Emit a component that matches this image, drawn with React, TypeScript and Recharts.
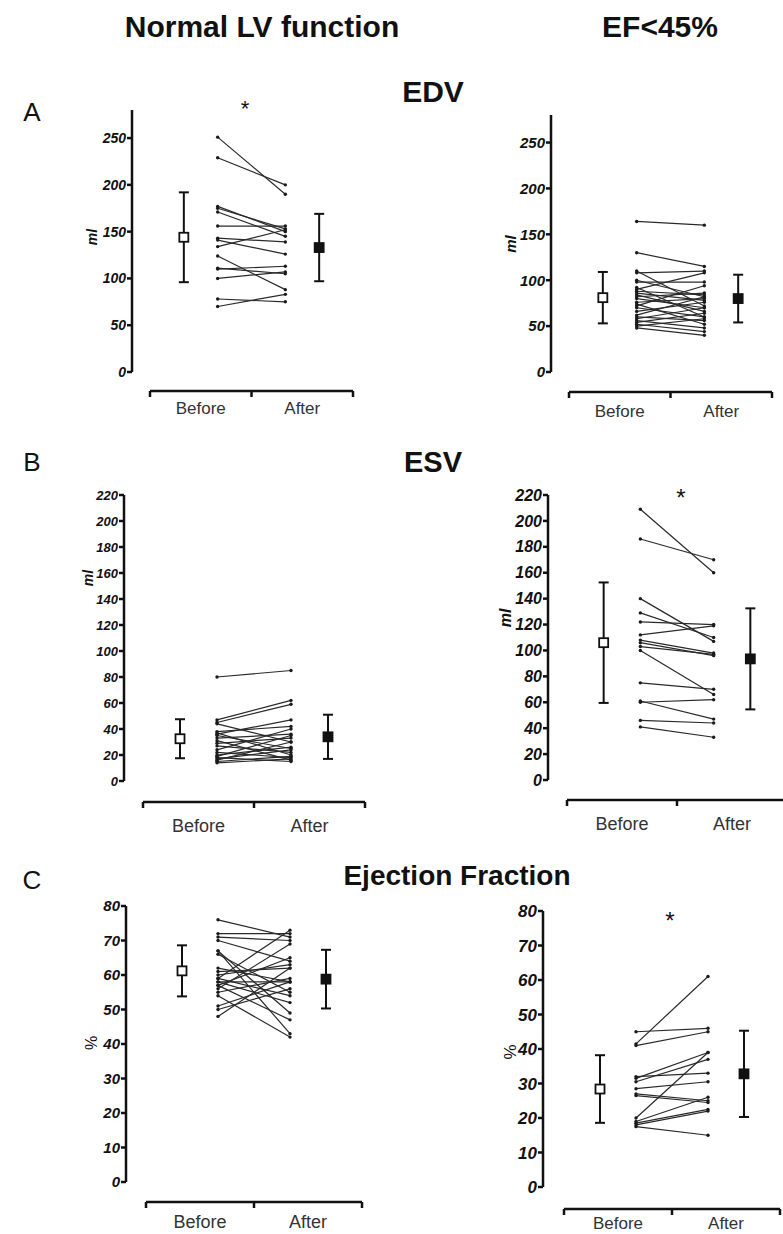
import React from "react";
import { ComposedChart, Line, Scatter, ErrorBar, XAxis, YAxis, ReferenceLine } from "recharts";

// EDV, normal LV function (ml)
const EDV_NORMAL_BEFORE = [251, 229, 177, 175, 171, 156, 143, 141, 134, 124, 111, 110, 100, 78, 70];
const EDV_NORMAL_AFTER = [190, 200, 150, 153, 145, 156, 139, 126, 152, 88, 105, 113, 107, 75, 83];
const EDV_NORMAL_MEAN = [144, 133];
const EDV_NORMAL_SD = [48, 36];

// EDV, EF<45% (ml)
const EDV_LOW_BEFORE = [164, 130, 110, 108, 100, 98, 92, 90, 88, 86, 84, 82, 80, 76, 74, 72, 70, 66, 62, 60, 58, 56, 54, 52, 50, 48];
const EDV_LOW_AFTER = [160, 115, 72, 110, 82, 98, 60, 108, 84, 78, 66, 86, 70, 80, 52, 94, 60, 76, 82, 56, 70, 48, 64, 44, 58, 40];
const EDV_LOW_MEAN = [81, 80];
const EDV_LOW_SD = [28, 26];

// ESV, normal LV function (ml)
const ESV_NORMAL_BEFORE = [80, 47, 45, 44, 38, 37, 36, 35, 33, 31, 29, 27, 24, 22, 20, 19, 18, 17, 16, 15, 14];
const ESV_NORMAL_AFTER = [85, 62, 59, 30, 42, 20, 47, 25, 36, 16, 33, 22, 40, 18, 26, 35, 15, 24, 30, 19, 17];
const ESV_NORMAL_MEAN = [32.5, 34];
const ESV_NORMAL_SD = [15, 17];

// ESV, EF<45% (ml)
const ESV_LOW_BEFORE = [209, 186, 140, 129, 122, 112, 108, 106, 103, 100, 75, 61, 60, 46, 41];
const ESV_LOW_AFTER = [160, 170, 107, 110, 120, 119, 98, 96, 97, 66, 70, 47, 62, 44, 33];
const ESV_LOW_MEAN = [106, 93.5];
const ESV_LOW_SD = [46.5, 39];

// Ejection fraction, normal LV function (%)
const EF_NORMAL_BEFORE = [76, 72, 71, 70, 67, 67, 66, 62, 61, 60, 59, 59, 58, 58, 57, 57, 56, 55, 54, 51, 50, 48];
const EF_NORMAL_AFTER = [71, 72, 70, 64, 43, 49, 55, 58, 62, 63, 73, 54, 58, 52, 65, 47, 69, 59, 42, 58, 56, 62];
const EF_NORMAL_MEAN = [61.2, 58.8];
const EF_NORMAL_SD = [7.4, 8.5];

// Ejection fraction, EF<45% (%)
const EF_LOW_BEFORE = [41.5, 45, 41, 31.5, 30.5, 32, 28.5, 27, 26.5, 20, 19, 18.5, 18, 17.5];
const EF_LOW_AFTER = [61, 46, 45, 39, 37, 33, 30.5, 25, 24.5, 39, 26, 22.5, 22, 15];
const EF_LOW_MEAN = [28.4, 32.8];
const EF_LOW_SD = [9.8, 12.5];

const EDV_TICKS = [0, 50, 100, 150, 200, 250];
const ESV_TICKS = [0, 20, 40, 60, 80, 100, 120, 140, 160, 180, 200, 220];
const EF_TICKS = [0, 10, 20, 30, 40, 50, 60, 70, 80];

// x positions: bracket runs 0..3, mean bars at 0.5 / 2.5, paired points at 1 / 2
const X_TICKS = [0, 0.75, 1.5, 2.25, 3];
const X_TICK_LABELS = ["", "Before", "", "After", ""];

const FONT = '"Liberation Sans", Arial, Helvetica, sans-serif';
const INK = "#111";

type Box = { axisX: number; zeroY: number; topY: number; bracketY: number; xStart: number; xEnd: number };

function BracketTick(props: any) {
  const { x, y, payload, labelSize, labelGap } = props;
  const label = X_TICK_LABELS[X_TICKS.indexOf(payload.value)];
  if (label) {
    return (
      <text x={x} y={y + labelGap} textAnchor="middle" dominantBaseline="central"
        fontSize={labelSize} fill="#333" fontFamily={FONT}>
        {label}
      </text>
    );
  }
  return <line x1={x} x2={x} y1={y} y2={y + 6} stroke={INK} strokeWidth={2.5} />;
}

function MeanSquare(filled: boolean) {
  return (p: any) => (
    <rect x={p.cx - 4.5} y={p.cy - 4.5} width={9} height={9}
      fill={filled ? INK : "#fff"} stroke={INK} strokeWidth={1.8} />
  );
}

function PairedPanel({ before, after, mean, sd, ticks, yMax, box, tickFont, labelSize, labelGap }: {
  before: number[]; after: number[]; mean: number[]; sd: number[]; ticks: number[]; yMax: number;
  box: Box; tickFont: number; labelSize: number; labelGap: number;
}) {
  const kx = (box.xEnd - box.xStart) / 3;
  const ky = (box.zeroY - box.topY) / yMax;
  const xMin = -(box.xStart - box.axisX) / kx;
  const yMin = -(box.bracketY - box.zeroY) / ky;

  const left = box.axisX - 70;
  const top = box.topY - 10;
  const width = box.xEnd + 10 - left;
  const height = box.bracketY + 40 - top;

  return (
    <div style={{ position: "absolute", left, top }}>
      <ComposedChart width={width} height={height}
        margin={{ left: 20, top: 10, right: 10, bottom: 10 }}>
        <XAxis type="number" dataKey="x" domain={[xMin, 3]} allowDataOverflow ticks={X_TICKS}
          interval={0} axisLine={false} tickLine={false} tickSize={0} tickMargin={0} height={30}
          tick={(p: any) => <BracketTick {...p} labelSize={labelSize} labelGap={labelGap} />} />
        <YAxis type="number" dataKey="y" domain={[yMin, yMax]} allowDataOverflow ticks={ticks}
          interval={0} axisLine={false} tickLine={{ stroke: INK, strokeWidth: 2.5 }} tickSize={5}
          tickMargin={1} width={50}
          tick={{ fontSize: tickFont, fontWeight: "bold", fontStyle: "italic", fill: INK, fontFamily: FONT }} />
        <ReferenceLine segment={[{ x: xMin, y: 0 }, { x: xMin, y: yMax }]} stroke={INK}
          strokeWidth={2.5} ifOverflow="visible" />
        <ReferenceLine segment={[{ x: 0, y: yMin }, { x: 3, y: yMin }]} stroke={INK}
          strokeWidth={2.5} ifOverflow="visible" />
        {before.map((b, i) => (
          <Line key={i} data={[{ x: 1, y: b }, { x: 2, y: after[i] }]} dataKey="y"
            stroke="#2a2a2a" strokeWidth={1.2} isAnimationActive={false}
            dot={{ r: 1.7, fill: "#1a1a1a", stroke: "none" }} activeDot={false} />
        ))}
        <Scatter data={[{ x: 0.5, y: mean[0], e: sd[0] }]} dataKey="y" isAnimationActive={false}
          shape={MeanSquare(false)}>
          <ErrorBar dataKey="e" direction="y" width={5} stroke={INK} strokeWidth={2} />
        </Scatter>
        <Scatter data={[{ x: 2.5, y: mean[1], e: sd[1] }]} dataKey="y" isAnimationActive={false}
          shape={MeanSquare(true)}>
          <ErrorBar dataKey="e" direction="y" width={5} stroke={INK} strokeWidth={2} />
        </Scatter>
      </ComposedChart>
    </div>
  );
}

function Txt({ x, y, size, weight = "normal", italic = false, rotate = 0, color = INK, children }: any) {
  return (
    <div style={{
      position: "absolute", left: x, top: y, transform: `translate(-50%, -50%) rotate(${rotate}deg)`,
      fontSize: size, fontWeight: weight, fontStyle: italic ? "italic" : "normal", color,
      fontFamily: FONT, whiteSpace: "nowrap", lineHeight: 1,
    }}>
      {children}
    </div>
  );
}

export default function App() {
  return (
    <div style={{ position: "absolute", left: 0, top: 0, width: 783, height: 1234, overflow: "hidden", background: "#fff" }}>
      <Txt x={262} y={27} size={30} weight="bold">Normal LV function</Txt>
      <Txt x={660} y={27} size={30} weight="bold">EF&lt;45%</Txt>

      <Txt x={32} y={112} size={26}>A</Txt>
      <Txt x={433} y={92} size={30} weight="bold">EDV</Txt>
      <Txt x={32} y={462} size={26}>B</Txt>
      <Txt x={433} y={462} size={29} weight="bold">ESV</Txt>
      <Txt x={32} y={880} size={26}>C</Txt>
      <Txt x={457} y={876} size={28} weight="bold">Ejection Fraction</Txt>

      <PairedPanel before={EDV_NORMAL_BEFORE} after={EDV_NORMAL_AFTER} mean={EDV_NORMAL_MEAN} sd={EDV_NORMAL_SD}
        ticks={EDV_TICKS} yMax={280} tickFont={14} labelSize={17} labelGap={17}
        box={{ axisX: 132, zeroY: 372, topY: 110, bracketY: 391, xStart: 150, xEnd: 353 }} />
      <PairedPanel before={EDV_LOW_BEFORE} after={EDV_LOW_AFTER} mean={EDV_LOW_MEAN} sd={EDV_LOW_SD}
        ticks={EDV_TICKS} yMax={280} tickFont={15} labelSize={17} labelGap={19}
        box={{ axisX: 551, zeroY: 372, topY: 115, bracketY: 392, xStart: 569, xEnd: 772 }} />
      <PairedPanel before={ESV_NORMAL_BEFORE} after={ESV_NORMAL_AFTER} mean={ESV_NORMAL_MEAN} sd={ESV_NORMAL_SD}
        ticks={ESV_TICKS} yMax={220} tickFont={13} labelSize={18} labelGap={24}
        box={{ axisX: 124, zeroY: 781, topY: 495, bracketY: 802, xStart: 143, xEnd: 365 }} />
      <PairedPanel before={ESV_LOW_BEFORE} after={ESV_LOW_AFTER} mean={ESV_LOW_MEAN} sd={ESV_LOW_SD}
        ticks={ESV_TICKS} yMax={220} tickFont={16} labelSize={18} labelGap={24}
        box={{ axisX: 548, zeroY: 780, topY: 495, bracketY: 800, xStart: 567, xEnd: 787 }} />
      <PairedPanel before={EF_NORMAL_BEFORE} after={EF_NORMAL_AFTER} mean={EF_NORMAL_MEAN} sd={EF_NORMAL_SD}
        ticks={EF_TICKS} yMax={80} tickFont={15} labelSize={18} labelGap={20}
        box={{ axisX: 126, zeroY: 1182, topY: 906, bracketY: 1202, xStart: 146, xEnd: 362 }} />
      <PairedPanel before={EF_LOW_BEFORE} after={EF_LOW_AFTER} mean={EF_LOW_MEAN} sd={EF_LOW_SD}
        ticks={EF_TICKS} yMax={80} tickFont={17} labelSize={17} labelGap={14}
        box={{ axisX: 543, zeroY: 1187, topY: 911, bracketY: 1209, xStart: 564, xEnd: 780 }} />

      {/* axis units */}
      <Txt x={92} y={237} size={14} weight="bold" italic rotate={-90}>ml</Txt>
      <Txt x={510} y={244} size={15} weight="bold" italic rotate={-90}>ml</Txt>
      <Txt x={88} y={578} size={14} weight="bold" italic rotate={-90}>ml</Txt>
      <Txt x={506} y={618} size={16} weight="bold" italic rotate={-90}>ml</Txt>
      <Txt x={92} y={1043} size={16} rotate={-90}>%</Txt>
      <Txt x={510} y={1052} size={17} rotate={-90}>%</Txt>

      {/* significance marks */}
      <Txt x={245} y={109} size={22}>*</Txt>
      <Txt x={681} y={498} size={24}>*</Txt>
      <Txt x={670} y={921} size={24}>*</Txt>
    </div>
  );
}
